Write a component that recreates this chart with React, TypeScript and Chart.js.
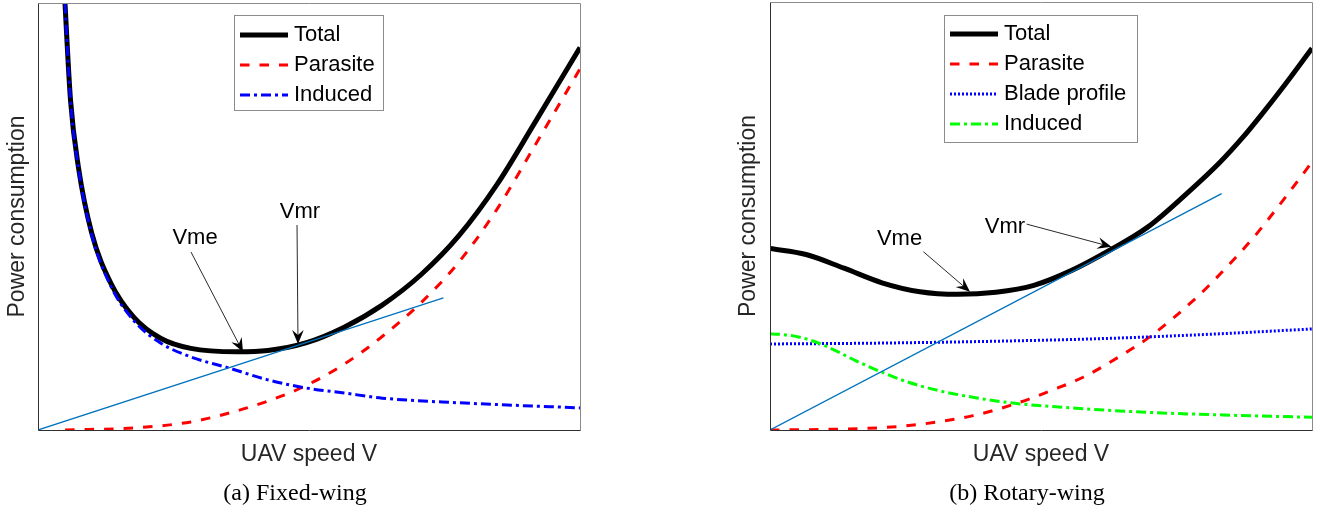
import React, { useEffect, useRef } from "react";
import { Chart, registerables } from "chart.js";

Chart.register(...registerables);

const SANS = "'Liberation Sans', Arial, Helvetica, sans-serif";
const SERIF = "'Liberation Serif', 'Times New Roman', serif";

// ---------- (a) Fixed-wing : normalised speed / power ----------
const fwTotalSpeed = [0.04, 0.05, 0.06, 0.0745, 0.099, 0.135, 0.177, 0.226, 0.282, 0.367, 0.424, 0.494, 0.565, 0.635, 0.707, 0.777, 0.847, 0.917, 1.0];
const fwTotalPower = [1.25, 1.0, 0.776, 0.619, 0.464, 0.344, 0.265, 0.216, 0.192, 0.184, 0.187, 0.205, 0.242, 0.294, 0.366, 0.458, 0.578, 0.724, 0.9];

const fwParasiteSpeed = [0.05, 0.177, 0.282, 0.367, 0.424, 0.487, 0.565, 0.635, 0.707, 0.777, 0.847, 0.917, 1.0];
const fwParasitePower = [0.0, 0.005, 0.019, 0.045, 0.068, 0.1, 0.155, 0.22, 0.3, 0.396, 0.52, 0.67, 0.85];

const fwInducedSpeed = [0.04, 0.05, 0.06, 0.0745, 0.099, 0.135, 0.177, 0.226, 0.282, 0.352, 0.424, 0.494, 0.565, 0.635, 0.777, 1.0];
const fwInducedPower = [1.25, 1.0, 0.776, 0.617, 0.46, 0.337, 0.257, 0.205, 0.172, 0.146, 0.118, 0.099, 0.087, 0.075, 0.064, 0.052];

const fwTangentSpeed = [0, 0.748];
const fwTangentPower = [0, 0.311];

// ---------- (b) Rotary-wing ----------
const rwTotalSpeed = [0, 0.0665, 0.1366, 0.2066, 0.2766, 0.3466, 0.4167, 0.4867, 0.5567, 0.6268, 0.6968, 0.7668, 0.8298, 0.8718, 0.9069, 0.9489, 1.0];
const rwTotalPower = [0.424, 0.41, 0.378, 0.344, 0.323, 0.317, 0.322, 0.338, 0.373, 0.42, 0.474, 0.55, 0.625, 0.683, 0.737, 0.805, 0.892];

const rwParasiteSpeed = [0, 0.1366, 0.2346, 0.3046, 0.3746, 0.4517, 0.5217, 0.5777, 0.6478, 0.7038, 0.7878, 0.8368, 0.8929, 0.9419, 0.9909, 1.0];
const rwParasitePower = [0, 0.0023, 0.0078, 0.0179, 0.0335, 0.0608, 0.0936, 0.1232, 0.174, 0.2207, 0.3105, 0.3729, 0.4509, 0.5289, 0.6108, 0.626];

const rwBladeSpeed = [0, 0.2, 0.4, 0.6, 0.8, 1.0];
const rwBladePower = [0.201, 0.203, 0.207, 0.213, 0.223, 0.236];

const rwInducedSpeed = [0, 0.0315, 0.0665, 0.1085, 0.158, 0.2066, 0.2556, 0.3116, 0.3817, 0.4517, 0.5567, 0.6968, 0.8368, 1.0];
const rwInducedPower = [0.2246, 0.222, 0.213, 0.193, 0.162, 0.135, 0.1115, 0.092, 0.0749, 0.0624, 0.0515, 0.0413, 0.0351, 0.0296];

const rwTangentSpeed = [0, 0.8333];
const rwTangentPower = [0, 0.5523];

// ---------- annotation anchors (data coordinates) ----------
const fwNoteLabels = ["Vme", "Vmr"];
const fwNoteText = [[0.2897, 0.4518], [0.4834, 0.513]];
const fwNoteFrom = [[0.2823, 0.4188], [0.4779, 0.4824]];
const fwNoteTo = [[0.3782, 0.1835], [0.4797, 0.2024]];

const rwNoteLabels = ["Vme", "Vmr"];
const rwNoteText = [[0.239, 0.4455], [0.4336, 0.475]];
const rwNoteFrom = [[0.283, 0.4166], [0.4736, 0.481]];
const rwNoteTo = [[0.369, 0.323], [0.63, 0.428]];

const X_TITLE = "UAV speed V";
const Y_TITLE = "Power consumption";

const pts = (xs: number[], ys: number[]) => xs.map((v, i) => ({ x: v, y: ys[i] }));

function lineDs(label: string | undefined, xs: number[], ys: number[], color: string, width: number, dash: number[], order: number) {
  return {
    label,
    data: pts(xs, ys),
    borderColor: color,
    backgroundColor: color,
    borderWidth: width,
    borderDash: dash,
    borderCapStyle: "butt",
    borderJoinStyle: "round",
    pointRadius: 0,
    pointHoverRadius: 0,
    fill: false,
    cubicInterpolationMode: "monotone",
    clip: 0,
    order,
  };
}

const framePlugin = {
  id: "frameBox",
  afterDatasetsDraw(chart: any) {
    const { ctx, chartArea } = chart;
    const l = Math.round(chartArea.left) + 0.5;
    const r = Math.round(chartArea.right) + 0.5;
    const t = Math.round(chartArea.top) + 0.5;
    const b = Math.round(chartArea.bottom) + 0.5;
    ctx.save();
    ctx.setLineDash([]);
    ctx.lineWidth = 1;
    ctx.strokeStyle = "#8a8a8a";
    ctx.beginPath();
    ctx.moveTo(l, t);
    ctx.lineTo(r, t);
    ctx.lineTo(r, b);
    ctx.stroke();
    ctx.strokeStyle = "#303030";
    ctx.beginPath();
    ctx.moveTo(l, t);
    ctx.lineTo(l, b);
    ctx.lineTo(r, b);
    ctx.stroke();
    ctx.restore();
  },
};

const notesPlugin = {
  id: "speedNotes",
  afterDatasetsDraw(chart: any, _a: any, opts: any) {
    const { ctx } = chart;
    const xs = chart.scales.x;
    const ys = chart.scales.y;
    ctx.save();
    ctx.setLineDash([]);
    ctx.font = `22px ${SANS}`;
    ctx.textAlign = "center";
    ctx.textBaseline = "middle";
    opts.labels.forEach((txt: string, i: number) => {
      const [tx, ty] = opts.text[i];
      ctx.fillStyle = "#000";
      ctx.fillText(txt, xs.getPixelForValue(tx), ys.getPixelForValue(ty));
      const [fx, fy] = opts.from[i];
      const [px, py] = opts.to[i];
      const x0 = xs.getPixelForValue(fx);
      const y0 = ys.getPixelForValue(fy);
      const x1 = xs.getPixelForValue(px);
      const y1 = ys.getPixelForValue(py);
      const len = Math.hypot(x1 - x0, y1 - y0);
      const ux = (x1 - x0) / len;
      const uy = (y1 - y0) / len;
      const nx = -uy;
      const ny = ux;
      const L = 14;
      const W = 5.8;
      const notch = 9;
      ctx.strokeStyle = "#111";
      ctx.lineWidth = 0.9;
      ctx.beginPath();
      ctx.moveTo(x0, y0);
      ctx.lineTo(x1 - ux * notch, y1 - uy * notch);
      ctx.stroke();
      ctx.fillStyle = "#000";
      ctx.beginPath();
      ctx.moveTo(x1, y1);
      ctx.lineTo(x1 - ux * L + nx * W, y1 - uy * L + ny * W);
      ctx.lineTo(x1 - ux * notch, y1 - uy * notch);
      ctx.lineTo(x1 - ux * L - nx * W, y1 - uy * L - ny * W);
      ctx.closePath();
      ctx.fill();
    });
    ctx.restore();
  },
};

const legendBoxPlugin = {
  id: "legendBox",
  afterDraw(chart: any, _a: any, opts: any) {
    const { ctx, chartArea } = chart;
    const items = chart.data.datasets.filter((d: any) => d.label);
    ctx.save();
    ctx.font = `22px ${SANS}`;
    const textW = Math.max(...items.map((d: any) => ctx.measureText(d.label).width));
    const left = Math.round(chartArea.left + opts.offsetX);
    const top = Math.round(chartArea.top + opts.offsetY);
    const w = Math.round(6 + 48 + 6 + textW + opts.padRight);
    const h = Math.round(opts.padTop + (items.length - 1) * opts.row + opts.padBottom);
    ctx.fillStyle = "#fff";
    ctx.fillRect(left, top, w, h);
    ctx.strokeStyle = "#8c8c8c";
    ctx.lineWidth = 1;
    ctx.setLineDash([]);
    ctx.strokeRect(left + 0.5, top + 0.5, w, h);
    items.forEach((d: any, i: number) => {
      const cy = top + opts.padTop + i * opts.row;
      ctx.save();
      ctx.beginPath();
      ctx.setLineDash(d.borderDash || []);
      ctx.lineWidth = d.borderWidth;
      ctx.strokeStyle = d.borderColor;
      ctx.lineCap = "butt";
      ctx.moveTo(left + 6, cy);
      ctx.lineTo(left + 54, cy);
      ctx.stroke();
      ctx.restore();
      ctx.fillStyle = "#000";
      ctx.textAlign = "left";
      ctx.textBaseline = "middle";
      ctx.fillText(d.label, left + 60, cy);
    });
    ctx.restore();
  },
};

type Panel = {
  datasets: any[];
  caption: string;
  padLeft: number;
  padRight: number;
  padTop: number;
  yAxisWidth: number;
  yTitlePad: number;
  yMax: number;
  legend: any;
  notes: any;
};

function makeConfig(p: Panel): any {
  const axisFont = { family: SANS, size: 23, lineHeight: 1.2 };
  return {
    type: "line",
    data: { datasets: p.datasets },
    plugins: [framePlugin, notesPlugin, legendBoxPlugin],
    options: {
      animation: false,
      responsive: false,
      devicePixelRatio: 1,
      events: [],
      layout: { padding: { left: p.padLeft, right: p.padRight, top: p.padTop, bottom: 0 } },
      plugins: {
        legend: { display: false },
        tooltip: { enabled: false },
        title: {
          display: true,
          position: "bottom",
          text: p.caption,
          color: "#000",
          font: { family: SERIF, size: 24, weight: "normal", lineHeight: 1.2 },
          padding: { top: 0, bottom: 4 },
        },
        legendBox: p.legend,
        speedNotes: p.notes,
      },
      scales: {
        x: {
          type: "linear",
          min: 0,
          max: 1,
          ticks: { display: false },
          grid: { display: false, drawTicks: false },
          border: { display: false },
          title: { display: true, text: X_TITLE, color: "#262626", font: axisFont, padding: { top: 0, bottom: 10.4 } },
          afterFit: (s: any) => {
            s.height = 49.2;
          },
        },
        y: {
          type: "linear",
          min: 0,
          max: p.yMax,
          ticks: { display: false },
          grid: { display: false, drawTicks: false },
          border: { display: false },
          title: { display: true, text: Y_TITLE, color: "#262626", font: axisFont, padding: { top: p.yTitlePad, bottom: 0 } },
          afterFit: (s: any) => {
            s.width = p.yAxisWidth;
          },
        },
      },
    },
  };
}

const fixedWing: Panel = {
  datasets: [
    lineDs("Total", fwTotalSpeed, fwTotalPower, "#000000", 5, [], 4),
    lineDs("Parasite", fwParasiteSpeed, fwParasitePower, "#FF0000", 3, [9.5, 10], 3),
    lineDs("Induced", fwInducedSpeed, fwInducedPower, "#0000FF", 3, [10, 4, 3, 4], 2),
    lineDs(undefined, fwTangentSpeed, fwTangentPower, "#0072BD", 1.3, [], 1),
  ],
  caption: "(a) Fixed-wing",
  padLeft: 10,
  padRight: 10,
  padTop: 3,
  yAxisWidth: 28,
  yTitlePad: -6.3,
  yMax: 1.005,
  legend: { offsetX: 196, offsetY: 12, padTop: 20, padBottom: 15, padRight: 8, row: 30 },
  notes: { labels: fwNoteLabels, text: fwNoteText, from: fwNoteFrom, to: fwNoteTo },
};

const rotaryWing: Panel = {
  datasets: [
    lineDs("Total", rwTotalSpeed, rwTotalPower, "#000000", 5, [], 5),
    lineDs("Parasite", rwParasiteSpeed, rwParasitePower, "#FF0000", 3, [9.5, 10], 4),
    lineDs("Blade profile", rwBladeSpeed, rwBladePower, "#0000FF", 3, [2, 2], 3),
    lineDs("Induced", rwInducedSpeed, rwInducedPower, "#00FF00", 3, [10, 4, 3, 4], 2),
    lineDs(undefined, rwTangentSpeed, rwTangentPower, "#0072BD", 1.3, [], 1),
  ],
  caption: "(b) Rotary-wing",
  padLeft: 12,
  padRight: 13,
  padTop: 2,
  yAxisWidth: 28,
  yTitlePad: -6.8,
  yMax: 1,
  legend: { offsetX: 174, offsetY: 13, padTop: 19, padBottom: 18, padRight: 11, row: 30 },
  notes: { labels: rwNoteLabels, text: rwNoteText, from: rwNoteFrom, to: rwNoteTo },
};

function PowerChart({ panel, left, width }: { panel: Panel; left: number; width: number }) {
  const ref = useRef<HTMLCanvasElement>(null);
  useEffect(() => {
    const chart = new Chart(ref.current as HTMLCanvasElement, makeConfig(panel));
    return () => chart.destroy();
  }, [panel]);
  return (
    <canvas
      ref={ref}
      width={width}
      height={512}
      style={{ position: "absolute", left, top: 0, width, height: 512, display: "block" }}
    />
  );
}

export default function App() {
  return (
    <div style={{ position: "absolute", left: 0, top: 0, width: 1325, height: 512, background: "#fff", overflow: "hidden" }}>
      <PowerChart panel={fixedWing} left={0} width={590} />
      <PowerChart panel={rotaryWing} left={730} width={595} />
    </div>
  );
}
